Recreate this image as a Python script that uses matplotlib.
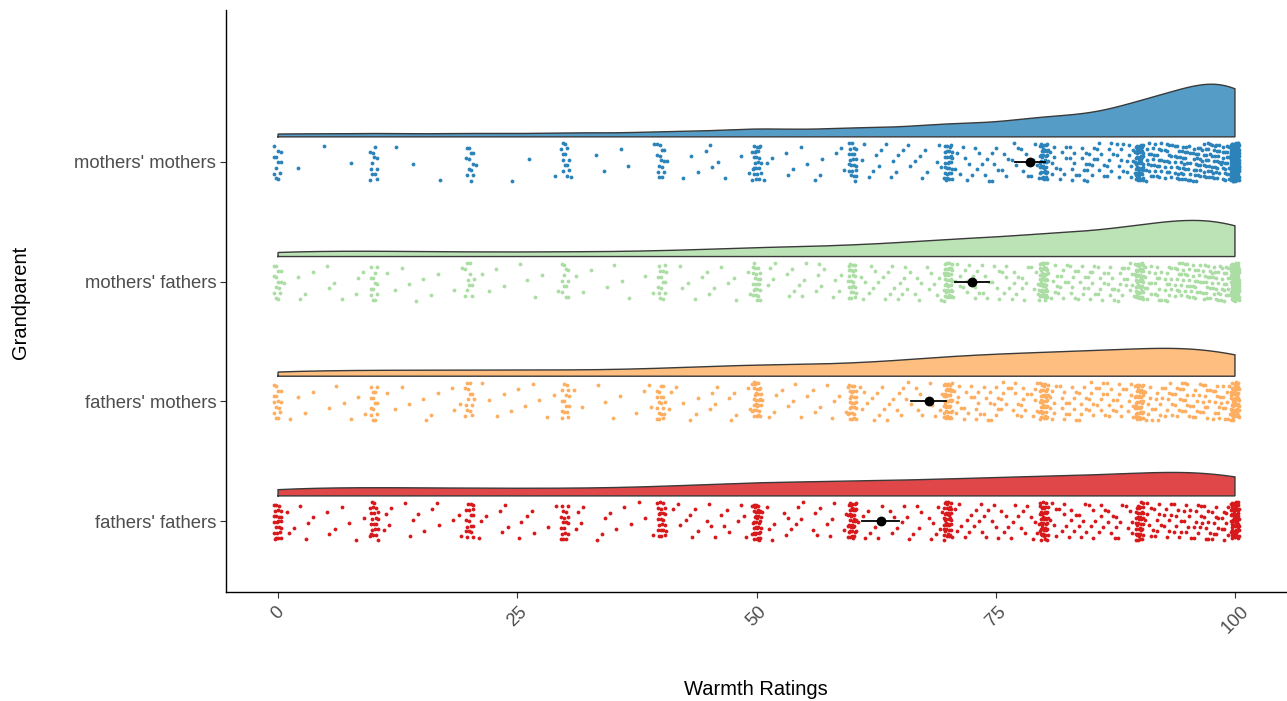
import numpy as np
import matplotlib
matplotlib.use("Agg")
import matplotlib.pyplot as plt

# ---------------- data ----------------
groups = ["fathers' fathers", "fathers' mothers", "mothers' fathers", "mothers' mothers"]
colors = ["#d7191c", "#fdae61", "#abdda4", "#2b83ba"]
x_ticks = [0, 25, 50, 75, 100]

# counts of ratings at each integer 0..99 (one row per decade) and at 100
ff_rows = [
    [24, 2, 2, 2, 1, 2, 1, 2, 1, 1],
    [22, 2, 2, 1, 2, 2, 1, 2, 1, 2],
    [18, 2, 1, 2, 2, 2, 1, 2, 1, 1],
    [18, 2, 2, 1, 2, 2, 1, 1, 2, 1],
    [22, 2, 2, 3, 2, 3, 2, 3, 2, 2],
    [36, 3, 2, 3, 3, 2, 3, 2, 3, 2],
    [38, 3, 3, 3, 3, 3, 3, 3, 3, 4],
    [40, 4, 4, 4, 4, 4, 4, 4, 4, 4],
    [44, 5, 5, 5, 6, 5, 5, 5, 5, 5],
    [38, 7, 7, 8, 8, 8, 9, 9, 9, 9],
]
ff_100 = 60

fm_rows = [
    [15, 1, 1, 1, 1, 1, 1, 1, 2, 1],
    [14, 1, 1, 1, 1, 2, 1, 1, 2, 1],
    [14, 1, 1, 1, 2, 1, 1, 2, 1, 1],
    [15, 1, 1, 1, 1, 1, 1, 1, 1, 2],
    [18, 2, 2, 1, 2, 2, 2, 2, 2, 2],
    [30, 2, 2, 2, 2, 2, 2, 2, 2, 2],
    [28, 3, 3, 4, 3, 4, 3, 4, 3, 3],
    [40, 6, 6, 6, 6, 6, 6, 6, 6, 6],
    [40, 7, 7, 7, 7, 7, 7, 7, 7, 7],
    [42, 8, 8, 9, 9, 10, 10, 11, 11, 11],
]
fm_100 = 55

mf_rows = [
    [14, 1, 2, 1, 1, 2, 1, 1, 2, 1],
    [13, 1, 1, 1, 2, 1, 1, 1, 1, 1],
    [11, 1, 1, 1, 1, 1, 1, 1, 1, 1],
    [12, 1, 1, 1, 1, 1, 1, 1, 1, 1],
    [14, 1, 2, 1, 2, 2, 2, 1, 2, 2],
    [22, 2, 2, 2, 3, 3, 2, 3, 2, 2],
    [24, 3, 4, 3, 4, 4, 3, 4, 3, 4],
    [38, 5, 5, 5, 5, 5, 5, 5, 5, 5],
    [48, 6, 7, 7, 7, 8, 7, 8, 8, 8],
    [48, 10, 11, 12, 13, 14, 15, 16, 16, 16],
]
mf_100 = 90

mm_rows = [
    [12, 0, 1, 0, 0, 1, 0, 0, 1, 0],
    [12, 0, 1, 0, 1, 0, 0, 1, 0, 0],
    [12, 1, 0, 0, 1, 0, 1, 0, 0, 1],
    [13, 1, 0, 1, 1, 0, 1, 1, 0, 1],
    [14, 1, 1, 1, 1, 3, 1, 1, 1, 1],
    [24, 2, 1, 2, 1, 2, 1, 2, 1, 2],
    [22, 2, 3, 2, 3, 3, 2, 3, 2, 3],
    [30, 3, 4, 4, 4, 5, 4, 4, 4, 4],
    [42, 6, 6, 7, 7, 8, 7, 7, 8, 8],
    [55, 14, 15, 16, 17, 19, 20, 21, 22, 22],
]
mm_100 = 145

group_rows = [ff_rows, fm_rows, mf_rows, mm_rows]
group_100 = [ff_100, fm_100, mf_100, mm_100]


def expand(rows, c100):
    counts = np.concatenate([np.asarray(r) for r in rows] + [np.asarray([c100])])
    return np.repeat(np.arange(101), counts).astype(float)


def kde(v, grid, adjust=0.85):
    n = len(v)
    sd = v.std(ddof=1)
    q75, q25 = np.percentile(v, [75, 25])
    bw = adjust * 0.9 * min(sd, (q75 - q25) / 1.34) * n ** -0.2
    z = (grid[:, None] - v[None, :]) / bw
    return np.exp(-0.5 * z ** 2).sum(1) / (n * bw * np.sqrt(2 * np.pi))


# ---------------- figure ----------------
plt.rcParams['font.family'] = ['Liberation Sans', 'DejaVu Sans']
fig = plt.figure(figsize=(12.87, 7.01), dpi=100)
ax = fig.add_axes([226 / 1287, 1 - 592 / 701, 1061 / 1287, 582 / 701])

grid = np.linspace(0, 100, 512)
data = [expand(r, c) for r, c in zip(group_rows, group_100)]
dens = [kde(v, grid) for v in data]
gmax = max(d.max() for d in dens)

offset = 0.21      # baseline of cloud above category
height = 0.44      # max cloud height
jit_x = 0.45
jit_y = 0.16
g = 1.32471795724474602596
a1, a2 = 1 / g, 1 / g ** 2

for k, (v, d, col) in enumerate(zip(data, dens, colors)):
    pos = k + 1
    base = pos + offset
    ax.fill_between(grid, base, base + d / gmax * height, facecolor=col, alpha=0.8,
                    edgecolor='none', zorder=2)
    xs = np.concatenate([[grid[0]], grid, [grid[-1], grid[0]]])
    ys = np.concatenate([[base], base + d / gmax * height, [base, base]])
    ax.plot(xs, ys, color='#3a3a3a', lw=1.0, zorder=3, solid_joinstyle='miter')

    n = len(v)
    i = np.arange(n)
    u = (0.5 + a1 * i) % 1.0
    w = (0.5 + a2 * i) % 1.0
    ax.scatter(v + (u - 0.5) * 2 * jit_x, pos + (w - 0.5) * 2 * jit_y, s=7.5,
               color=col, linewidths=0, zorder=4)

    m = v.mean()
    se = v.std(ddof=1) / np.sqrt(n)
    ax.plot([m - 1.645 * se, m + 1.645 * se], [pos, pos], color='black', lw=1.3, zorder=5)
    ax.scatter([m], [pos], s=50, color='black', zorder=6, linewidths=0)

ax.set_xlim(-5.44, 105.44)
ax.set_ylim(0.407, 5.27)
ax.set_yticks([1, 2, 3, 4])
ax.set_yticklabels(groups)
ax.set_xticks(x_ticks)
ax.set_xticklabels([str(t) for t in x_ticks], rotation=45, ha='center', va='top')

for s in ['top', 'right']:
    ax.spines[s].set_visible(False)
for s in ['left', 'bottom']:
    ax.spines[s].set_color('black')
    ax.spines[s].set_linewidth(1.0)

ax.tick_params(axis='both', colors='#333333', length=4, width=0.8, labelsize=13.3,
               labelcolor='#4d4d4d', pad=3)
ax.tick_params(axis='x', pad=4)

ax.set_xlabel('Warmth Ratings', fontsize=14.5, color='black', va='center')
ax.set_ylabel('Grandparent', fontsize=14.5, color='black', va='center')
ax.xaxis.set_label_coords((756 - 226) / 1061, -0.168)
ax.yaxis.set_label_coords((20 - 226) / 1061, (592 - 302) / 582)

fig.savefig('out.png', dpi=100)
